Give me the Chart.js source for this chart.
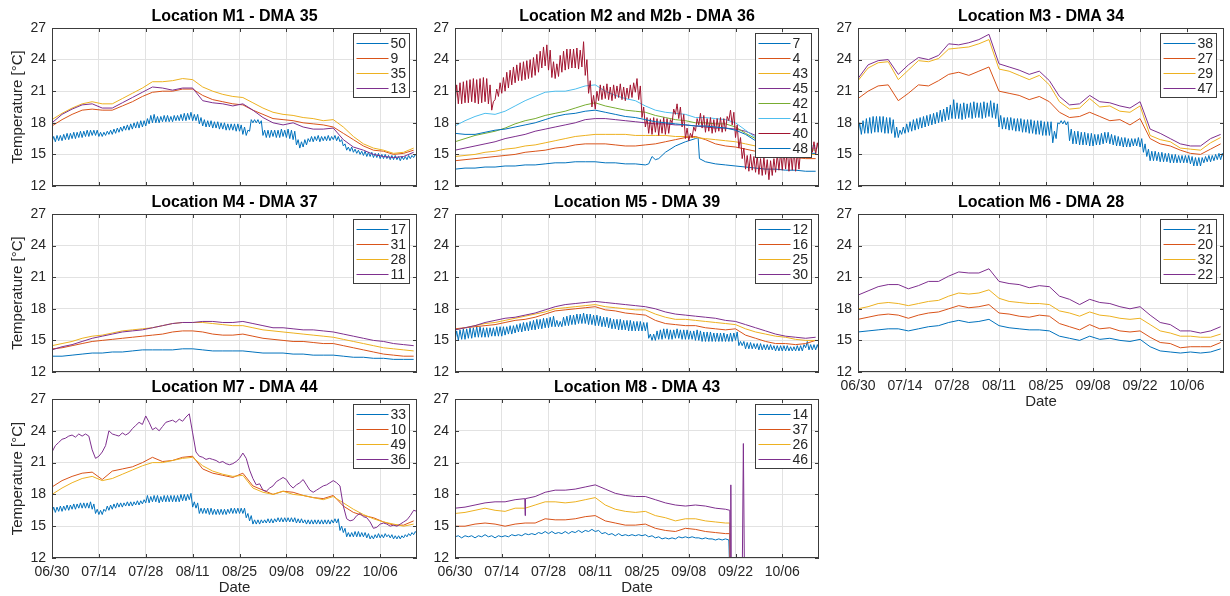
<!DOCTYPE html>
<html>
<head>
<meta charset="utf-8">
<script src="https://cdn.jsdelivr.net/npm/chart.js@4.4.1/dist/chart.umd.min.js"></script>
<style>
  html, body { margin: 0; padding: 0; background: #fff; }
  #fig { position: relative; width: 1230px; height: 596px; overflow: hidden; }
  #fig canvas { position: absolute; }
</style>
</head>
<body>
<div id="fig"></div>
<script>
// ---- shared axes ----
const xTickLabels = ['06/30', '07/14', '07/28', '08/11', '08/25', '09/08', '09/22', '10/06'];
// days since 06/30, every third day
const days3 = [0, 3, 6, 9, 12, 15, 18, 21, 24, 27, 30, 33, 36, 39, 42, 45, 48, 51, 54, 57, 60, 63, 66, 69, 72, 75, 78, 81, 84, 87, 90, 93, 96, 99, 102, 105, 108];

// Sensors with a strong daily cycle are kept as daily lows (night) and highs (midday), index = day.

// ---- M1 - DMA 35 ----
const m1_50lo = [16.2,16.2,16.3,16.3,16.4,16.4,16.5,16.5,16.6,16.6, 16.7,16.7,16.8,16.8,16.7,16.7,16.8,16.9,16.9,17.0,
  17.1,17.2,17.3,17.3,17.4,17.5,17.5,17.6,17.7,17.9, 18.0,18.0,18.0,18.1,18.1,18.1,18.1,18.2,18.2,18.2,
  18.2,18.3,18.2,18.2,17.9,17.7,17.6,17.6,17.5,17.5, 17.4,17.4,17.3,17.3,17.3,17.2,17.2,16.9,16.8,17.2,
  18.0,18.0,17.9,16.8,16.6,16.6,16.7,16.6,16.6,16.7, 16.6,16.5,16.4,15.9,15.6,15.7,15.9,16.2,16.2,16.3,
  16.2,16.3,16.3,16.3,16.4,16.3,16.2,15.8,15.4,15.3, 15.2,15.1,15.0,14.9,14.8,14.8,14.7,14.7,14.6,14.6,
  14.6,14.5,14.5,14.5,14.4,14.5,14.5,14.6,14.7,14.8];
const m1_50hi = [16.7,16.8,16.8,16.9,17.0,17.0,17.1,17.1,17.2,17.2, 17.3,17.3,17.3,17.3,17.1,17.1,17.2,17.3,17.4,17.5,
  17.6,17.7,17.8,17.9,18.0,18.1,18.2,18.2,18.4,18.7, 18.8,18.6,18.6,18.7,18.7,18.6,18.7,18.7,18.8,18.9,
  18.9,19.0,18.8,18.8,18.5,18.3,18.2,18.2,18.1,18.1, 18.0,18.0,17.9,17.9,17.9,17.9,17.8,17.6,17.3,18.3,
  18.3,18.3,18.2,17.3,17.3,17.3,17.3,17.3,17.4,17.3, 17.4,17.3,17.2,16.4,16.2,16.4,16.5,16.7,16.7,16.8,
  16.7,16.7,16.8,16.7,16.8,16.7,16.4,16.0,15.7,15.7, 15.5,15.4,15.3,15.3,15.2,15.2,15.1,15.1,15.0,15.0,
  14.9,14.9,14.9,14.8,14.8,14.8,14.9,14.9,15.0,15.1];
const m1_9  = [17.7,18.3,18.8,19.2,19.3,19.2,19.2,19.6,20.0,20.5,20.9,21.0,21.0,21.2,21.2,20.6,20.2,20.0,19.8,19.7,19.2,18.8,18.4,18.3,18.2,18.0,17.9,17.8,17.6,17.0,16.4,15.8,15.4,15.3,15.0,15.1,15.4];
const m1_35 = [18.3,18.9,19.4,19.8,20.0,19.8,19.8,20.3,20.8,21.3,21.9,21.9,22.0,22.2,22.1,21.4,21.0,20.7,20.5,20.4,19.9,19.4,19.0,18.8,18.7,18.5,18.4,18.2,18.3,17.6,16.7,16.0,15.6,15.4,15.1,15.2,15.6];
const m1_13 = [18.0,18.8,19.3,19.7,19.8,19.4,19.4,19.9,20.4,20.9,21.4,21.3,21.1,21.3,21.3,20.1,19.9,19.8,19.6,19.8,19.2,18.5,18.0,17.8,18.0,17.6,17.4,17.4,17.5,16.4,15.7,15.4,15.0,14.8,14.7,14.8,15.2];

// ---- M2 and M2b - DMA 36 ----
const m2Days7 = [0,3,6,9,12,15,18,21,24,27,30,33,36,39,42,45,48,51,54,57,58,59,60,61,63,66,69,72,72.8,73.2,75,78,81,84,87,90,93,96,99,102,105,108];
const m2_7  = [13.6,13.7,13.7,13.8,13.8,13.9,13.9,14.0,14.0,14.1,14.2,14.2,14.3,14.3,14.3,14.2,14.2,14.1,14.1,14.0,14.1,14.8,14.5,14.6,15.2,15.8,16.2,16.5,16.6,14.6,14.3,14.1,14.0,13.9,13.8,13.7,13.6,13.6,13.5,13.5,13.4,13.4];
const m2_4  = [14.4,14.5,14.6,14.7,14.8,14.9,15.0,15.2,15.3,15.4,15.6,15.7,15.9,16.0,16.0,16.0,15.9,15.8,15.8,15.9,16.0,16.2,16.4,16.6,16.7,16.4,16.0,15.8,15.7,15.5,15.3,15.1,14.9,14.8,14.7,14.6,14.6];
const m2_43 = [14.8,14.9,15.0,15.2,15.3,15.5,15.6,15.8,15.9,16.1,16.3,16.5,16.7,16.8,16.9,16.9,16.9,16.9,16.8,16.8,16.8,16.8,16.7,16.7,16.6,16.5,16.4,16.3,16.2,16.0,15.8,15.6,15.4,15.2,15.1,15.0,15.0];
const m2_45 = [15.4,15.6,15.8,16.0,16.2,16.5,16.7,16.9,17.2,17.4,17.6,17.8,18.0,18.3,18.4,18.4,18.3,18.2,18.1,18.0,17.9,17.9,17.8,17.8,17.7,17.6,17.5,17.5,17.4,17.2,16.8,16.3,16.0,15.8,15.7,15.6,15.6];
const m2_42 = [16.2,16.5,16.8,17.0,17.2,17.5,17.9,18.2,18.4,18.7,18.9,19.1,19.4,19.7,19.9,19.6,19.4,19.2,19.1,19.0,18.7,18.5,18.3,18.2,18.0,18.0,17.9,17.9,17.6,17.0,16.5,16.2,15.9,15.7,15.6,15.5,15.4];
const m2_41 = [17.7,18.2,18.6,18.9,18.8,19.1,19.6,20.1,20.5,20.9,21.0,21.0,21.2,21.5,21.6,21.0,20.6,20.3,20.1,19.6,19.2,19.0,18.9,18.8,18.5,18.5,18.4,18.3,18.0,17.3,16.6,16.2,16.0,15.9,15.9,15.8,15.8];
const m2_40lo = [19.7,19.8,19.8,19.9,19.9,20.0,19.9,19.8,19.9,20.0,19.8,
  19.2,20.2,20.5,20.8,21.0,21.3,21.6,21.8,22.0,22.0,
  22.1,22.2,22.3,22.5,22.8,23.2,23.4,23.0,22.3,22.2,
  22.4,22.8,23.0,23.1,23.2,23.2,23.1,23.3,22.5,20.8,
  19.5,19.3,20.1,20.2,20.3,20.2,20.1,20.3,20.4,20.2,
  20.1,20.3,20.4,20.9,20.2,18.5,17.6,17.0,16.9,17.1,
  16.8,17.0,16.9,17.0,18.0,18.8,18.4,17.6,16.5,16.3,
  16.6,17.2,17.8,17.5,17.1,17.2,17.0,17.1,17.2,17.1,
  17.2,18.2,17.8,16.6,15.6,14.6,13.6,13.4,13.5,13.3,
  13.1,13.0,13.1,12.6,13.0,13.3,13.5,13.5,13.6,13.4,
  13.5,13.4,13.6,15.2,15.0,15.1,15.2,15.0,15.2];
const m2_40hi = [21.6,21.8,21.9,22.0,22.1,22.2,22.1,22.2,22.3,22.2,21.6,
  20.0,21.2,21.8,22.3,22.8,23.0,23.3,23.5,23.7,23.8,
  23.9,24.0,24.2,24.5,24.8,25.2,25.4,24.9,23.8,23.6,
  24.4,24.8,25.0,25.0,25.0,25.1,24.9,25.7,24.0,22.0,
  20.6,21.0,21.6,21.5,21.7,21.4,21.6,21.5,21.7,21.4,
  21.3,21.6,21.8,22.2,21.5,19.5,18.5,18.4,18.5,18.4,
  18.3,18.5,18.4,18.3,19.3,19.8,19.5,18.8,17.5,17.0,
  17.6,18.4,18.9,18.7,18.4,18.5,18.3,18.4,18.5,18.4,
  18.6,19.2,19.0,17.8,16.6,15.6,14.9,15.0,14.8,14.9,
  14.6,14.7,14.5,14.4,14.6,15.0,15.2,15.4,15.5,15.3,
  15.6,15.2,15.4,16.3,16.2,16.0,16.2,16.1,16.0];
const m2_48 = [17.0,16.9,16.9,17.1,17.3,17.4,17.6,17.8,18.0,18.3,18.6,18.8,18.9,19.1,19.2,19.0,18.8,18.6,18.5,18.3,18.1,18.0,17.9,17.8,17.7,17.7,17.6,17.5,17.3,16.9,16.3,15.8,15.5,15.3,15.2,15.1,15.1];

// ---- M3 - DMA 34 ----
const m3_38lo = [16.9,16.9,17.0,17.0,17.0,17.1,17.1,17.1,17.0,17.0, 17.0,16.6,16.6,16.9,17.0,17.1,17.2,17.3,17.4,17.5,
  17.6,17.7,17.8,17.9,18.0,18.1,18.2,18.3,18.4,18.4, 18.4,18.3,18.4,18.5,18.4,18.5,18.5,18.4,18.5,18.6,
  18.5,18.4,17.6,17.4,17.4,17.3,17.3,17.2,17.2,17.1, 17.1,17.0,17.0,16.9,16.9,16.8,16.8,16.8,16.1,16.5,
  17.9,17.9,17.8,16.3,16.0,16.0,15.9,15.9,15.9,15.8, 15.8,15.9,15.9,16.0,16.1,16.0,15.9,15.8,15.8,15.7,
  15.7,15.7,15.8,15.8,15.7,15.2,14.8,14.4,14.4,14.4, 14.3,14.3,14.3,14.2,14.2,14.2,14.2,14.2,14.2,14.1,
  13.9,13.9,13.9,14.2,14.3,14.3,14.4,14.5,14.5,14.6];
const m3_38hi = [18.0,18.2,18.4,18.5,18.6,18.6,18.6,18.6,18.5,18.5, 18.3,17.6,17.3,17.6,17.9,18.1,18.3,18.4,18.5,18.6,
  18.7,18.8,18.9,19.0,19.2,19.3,19.5,19.7,20.2,19.9, 19.8,19.9,19.8,19.9,20.0,19.9,19.9,20.0,19.9,20.1,
  19.9,19.8,18.7,18.5,18.5,18.5,18.4,18.4,18.4,18.3, 18.3,18.3,18.2,18.2,18.2,18.1,18.1,18.1,17.2,18.0,
  18.2,18.2,18.1,17.4,17.2,17.2,17.1,17.1,17.0,17.0, 16.9,16.9,17.0,17.1,17.1,16.9,16.8,16.7,16.6,16.6,
  16.5,16.5,16.5,16.6,16.5,16.0,15.5,15.3,15.3,15.2, 15.2,15.1,15.1,15.0,15.0,14.9,14.9,14.9,14.9,14.8,
  14.7,14.7,14.7,14.8,14.9,14.9,15.0,15.1,15.1,15.1];
const m3_27 = [20.3,21.0,21.5,21.6,20.1,20.8,21.6,21.5,22.0,22.6,22.8,22.5,22.9,23.3,21.0,20.8,20.6,20.2,20.5,20.0,19.0,18.5,18.6,19.0,18.6,18.2,18.3,17.8,18.4,16.5,16.0,15.8,15.4,15.1,15.0,15.5,16.0];
const m3_29 = [22.0,23.2,23.7,23.8,22.1,23.0,23.9,23.8,24.1,25.0,25.1,25.2,25.5,25.9,23.1,22.9,22.5,22.1,22.5,21.6,20.0,19.3,19.4,20.3,19.5,19.6,19.1,19.0,19.6,16.8,16.4,16.2,15.6,15.5,15.4,16.1,16.6];
const m3_47 = [22.2,23.5,23.9,24.0,22.6,23.5,24.2,24.0,24.4,25.5,25.4,25.6,25.9,26.4,23.6,23.3,23.0,22.6,22.9,22.0,20.5,19.7,19.8,20.6,20.0,19.9,19.6,19.4,20.0,17.4,17.0,16.5,16.0,15.8,15.8,16.5,16.9];

// ---- M4 - DMA 37 ----
const m4_17 = [13.5,13.5,13.6,13.7,13.8,13.8,13.9,13.9,14.0,14.1,14.1,14.1,14.1,14.2,14.2,14.1,14.0,14.0,14.0,14.0,13.9,13.8,13.8,13.8,13.7,13.7,13.6,13.6,13.6,13.5,13.4,13.4,13.3,13.3,13.2,13.2,13.2];
const m4_31 = [14.2,14.3,14.5,14.7,14.9,15.0,15.1,15.2,15.3,15.4,15.5,15.6,15.8,15.9,15.9,15.8,15.6,15.5,15.5,15.6,15.4,15.2,15.1,15.0,14.9,14.9,14.8,14.7,14.7,14.5,14.3,14.1,13.9,13.7,13.6,13.5,13.5];
const m4_28 = [14.5,14.7,14.9,15.2,15.4,15.5,15.7,15.9,16.0,16.1,16.2,16.4,16.6,16.7,16.7,16.7,16.6,16.5,16.4,16.4,16.2,16.0,15.9,15.8,15.7,15.6,15.5,15.4,15.3,15.1,14.9,14.7,14.5,14.3,14.2,14.1,14.0];
const m4_11 = [14.1,14.4,14.6,14.9,15.2,15.4,15.6,15.8,15.9,16.0,16.2,16.4,16.6,16.7,16.7,16.8,16.8,16.7,16.7,16.8,16.6,16.4,16.2,16.2,16.1,16.0,16.0,15.9,15.8,15.6,15.4,15.2,15.0,14.9,14.7,14.6,14.5];

// ---- M5 - DMA 39 ----
const m5_12lo = [15.0,15.0,15.1,15.1,15.2,15.2,15.3,15.3,15.3,15.3, 15.3,15.4,15.4,15.4,15.4,15.5,15.6,15.6,15.7,15.8,
  15.8,15.9,15.9,16.0,16.0,16.1,16.1,16.2,16.2,16.3, 16.3,16.3,16.3,16.4,16.4,16.5,16.5,16.6,16.6,16.6,
  16.5,16.5,16.4,16.4,16.3,16.3,16.2,16.1,16.1,16.0, 16.0,16.0,15.9,15.9,15.9,15.9,15.9,15.9,15.2,15.0,
  15.0,15.1,15.1,15.2,15.1,15.1,15.2,15.2,15.1,15.1, 15.1,15.1,15.0,15.0,14.9,14.9,14.9,14.9,14.9,14.9,
  14.9,14.9,14.9,14.9,15.0,14.5,14.5,14.2,14.2,14.2, 14.2,14.1,14.1,14.1,14.1,14.1,14.0,14.0,14.0,14.0,
  14.0,14.0,14.0,14.0,14.0,14.3,14.1,14.1,14.1,14.1];
const m5_12hi = [15.9,16.0,16.1,16.1,16.2,16.2,16.3,16.3,16.2,16.2, 16.2,16.2,16.3,16.3,16.3,16.3,16.4,16.4,16.5,16.6,
  16.7,16.7,16.8,16.9,17.0,17.0,17.1,17.1,17.2,17.3, 16.9,16.8,17.2,17.3,17.4,17.4,17.5,17.5,17.6,17.5,
  17.5,17.4,17.4,17.3,17.2,17.2,17.1,17.0,17.0,17.0, 16.9,16.9,16.9,16.8,16.8,16.8,16.7,16.7,15.6,15.6,
  15.9,16.0,16.1,16.1,16.0,16.0,16.1,16.0,16.0,16.0, 15.9,15.9,16.0,15.9,15.8,15.8,15.8,15.7,15.7,15.7,
  15.7,15.6,15.7,15.7,15.8,14.9,14.9,14.8,14.8,14.7, 14.7,14.7,14.6,14.6,14.6,14.5,14.5,14.5,14.5,14.5,
  14.4,14.4,14.5,14.5,14.6,14.9,14.6,14.6,14.6,14.5];
const m5_16 = [16.1,16.2,16.3,16.4,16.5,16.7,16.9,17.0,17.2,17.5,17.8,17.9,18.0,18.1,18.2,17.9,17.8,17.6,17.5,17.4,16.9,16.6,16.5,16.4,16.4,16.2,16.1,16.0,16.1,15.5,15.2,14.9,14.7,14.7,14.6,14.7,15.0];
const m5_25 = [16.0,16.2,16.4,16.6,16.7,16.9,17.1,17.3,17.5,17.7,18.0,18.1,18.2,18.3,18.4,18.2,18.1,18.0,17.9,17.9,17.5,17.2,17.0,17.0,16.9,16.8,16.7,16.6,16.5,16.1,15.8,15.6,15.4,15.3,15.1,15.0,15.0];
const m5_30 = [16.0,16.2,16.4,16.7,16.9,17.1,17.2,17.4,17.6,17.9,18.2,18.4,18.5,18.6,18.7,18.6,18.5,18.4,18.3,18.2,18.0,17.7,17.5,17.4,17.3,17.2,17.1,16.9,16.8,16.5,16.2,15.9,15.6,15.4,15.3,15.2,15.3];

// ---- M6 - DMA 28 ----
const m6_21 = [15.8,15.9,16.0,16.1,16.1,15.9,16.1,16.3,16.4,16.7,16.9,16.7,16.8,17.0,16.4,16.2,16.1,16.0,16.0,15.9,15.4,15.2,15.0,15.4,15.1,15.2,15.0,14.9,15.1,14.4,14.0,13.9,13.8,13.9,13.8,13.9,14.2];
const m6_20 = [17.0,17.2,17.4,17.5,17.4,17.1,17.4,17.6,17.7,18.0,18.3,18.1,18.2,18.4,17.6,17.5,17.3,17.2,17.4,17.3,16.6,16.3,16.0,16.5,16.1,16.2,15.9,15.8,15.9,15.3,14.8,14.7,14.3,14.4,14.4,14.4,14.8];
const m6_32 = [18.0,18.2,18.5,18.6,18.5,18.3,18.5,18.7,18.8,19.2,19.5,19.4,19.5,19.8,19.0,18.7,18.6,18.5,18.5,18.4,17.8,17.6,17.3,17.7,17.4,17.3,17.1,17.0,17.1,16.5,15.9,15.7,15.4,15.4,15.3,15.3,15.6];
const m6_22 = [19.3,19.7,20.1,20.3,20.3,19.9,20.2,20.6,20.6,21.1,21.5,21.4,21.4,21.8,20.6,20.4,20.3,20.0,20.2,20.1,19.2,18.9,18.4,18.9,18.6,18.5,18.2,18.0,18.2,17.4,16.7,16.5,15.9,15.9,15.7,15.9,16.3];

// ---- M7 - DMA 44 ----
const m7_33lo = [16.3,16.3,16.4,16.4,16.5,16.5,16.6,16.6,16.7,16.7, 16.7,16.7,16.6,16.2,16.1,16.1,16.4,16.5,16.6,16.7,
  16.8,16.8,16.9,16.9,16.9,17.0,17.0,17.1,17.2,17.2, 17.3,17.3,17.2,17.3,17.3,17.3,17.3,17.3,17.3,17.4,
  17.4,17.5,16.8,16.7,16.2,16.2,16.2,16.1,16.1,16.1, 16.1,16.1,16.1,16.2,16.2,16.2,16.2,16.2,15.8,15.5,
  15.2,15.2,15.2,15.3,15.3,15.3,15.3,15.4,15.4,15.4, 15.4,15.4,15.4,15.3,15.3,15.3,15.2,15.2,15.2,15.2,
  15.2,15.2,15.2,15.2,15.3,15.3,14.6,14.4,14.0,14.0, 14.0,14.0,14.0,14.0,13.9,13.8,13.8,13.9,13.9,13.9,
  14.0,13.9,13.8,13.8,13.8,13.9,14.0,14.1,14.2,14.3];
const m7_33hi = [16.8,16.8,16.9,16.9,17.0,17.0,17.1,17.1,17.2,17.2, 17.2,17.3,17.1,16.6,16.5,16.6,16.9,17.0,17.1,17.2,
  17.2,17.2,17.3,17.3,17.3,17.4,17.4,17.5,17.9,17.8, 17.9,17.9,17.8,17.9,17.9,17.9,17.9,17.9,18.0,18.0,
  18.0,18.1,17.3,17.2,16.7,16.7,16.7,16.7,16.6,16.6, 16.6,16.6,16.6,16.7,16.7,16.7,16.7,16.7,16.2,16.0,
  15.6,15.6,15.6,15.6,15.7,15.7,15.7,15.8,15.8,15.8, 15.8,15.8,15.8,15.7,15.7,15.6,15.6,15.6,15.6,15.6,
  15.6,15.6,15.6,15.6,15.7,15.7,15.0,14.8,14.4,14.4, 14.5,14.5,14.4,14.4,14.3,14.1,14.2,14.3,14.2,14.3,
  14.2,14.2,14.1,14.1,14.1,14.2,14.3,14.4,14.5,14.6];
const m7_10 = [18.7,19.3,19.7,20.0,20.1,19.4,20.2,20.4,20.6,21.0,21.5,21.1,21.2,21.5,21.6,20.4,20.0,19.8,19.6,20.0,18.8,18.4,18.0,18.3,18.2,17.9,17.7,17.6,17.9,16.9,16.3,16.0,15.8,15.4,15.1,15.1,15.5];
const m7_49 = [18.0,18.6,19.1,19.5,19.7,19.3,19.5,19.9,20.3,20.7,21.0,21.0,21.2,21.4,21.5,20.7,20.2,19.9,19.7,19.8,18.6,18.2,18.0,18.3,18.0,17.9,17.7,17.5,17.8,17.2,16.6,16.1,15.7,15.4,15.2,15.0,15.2];
// daily readings (index = day)
const m7_36 = [22.0,22.6,22.9,23.2,23.3,23.5,23.6,23.4,23.7,23.5,23.7,
  23.5,22.2,21.4,21.6,22.0,22.6,24.0,23.7,23.6,23.5,
  23.8,23.6,23.8,24.2,24.5,24.8,24.6,25.4,24.8,24.1,
  24.3,24.0,24.4,24.8,24.9,25.0,24.8,25.1,24.9,25.3,
  25.6,23.8,22.0,21.6,21.5,21.3,21.4,21.3,21.2,21.0,
  21.1,20.9,20.8,20.9,21.1,21.4,21.9,21.4,20.3,19.5,
  18.9,19.0,18.4,18.3,18.6,18.8,19.2,19.4,19.6,19.4,
  18.9,18.6,18.9,19.1,19.4,18.9,18.4,18.2,18.4,18.6,
  18.8,18.9,19.1,19.3,19.1,18.8,16.9,15.7,15.5,15.6,
  16.0,16.2,15.9,15.8,15.4,14.8,14.9,15.2,15.3,15.2,
  15.0,15.1,15.0,15.2,15.4,15.6,16.0,16.5,16.4];

// ---- M8 - DMA 43 (logger fails after 09/19) ----
const m8Days = [0,3,6,9,12,15,18,21,24,27,30,33,36,39,42,45,48,51,54,57,60,63,66,69,72,75,78,81,82.3,82.4];
// daily readings (index = day)
const m8_14 = [14.0,14.1,13.9,14.1,14.0,14.1,13.9,14.1,14.0,14.2,14.0,14.1,13.9,14.1,
  14.0,14.1,14.0,14.2,14.1,14.2,14.1,14.3,14.2,14.3,14.2,14.4,14.3,14.5,
  14.3,14.5,14.3,14.4,14.3,14.5,14.3,14.5,14.4,14.6,14.4,14.6,14.5,14.7,
  14.5,14.6,14.3,14.4,14.2,14.3,14.1,14.3,14.1,14.2,14.1,14.2,14.1,14.2,
  14.1,14.2,14.0,14.1,13.9,14.0,13.8,13.9,13.8,13.9,13.8,14.0,13.9,14.0,
  13.9,14.0,13.9,13.9,13.8,13.9,13.8,13.8,13.7,13.8,13.7,13.8,13.7,2];
const m8_37 = [15.0,15.0,15.2,15.3,15.2,15.0,15.2,15.3,15.3,15.7,15.6,15.6,15.7,15.9,16.0,15.5,15.3,15.1,15.1,15.2,14.8,14.6,14.5,14.8,14.7,14.5,14.4,14.3,14.3,2];
const m8_26 = [16.2,16.3,16.5,16.7,16.5,16.4,16.7,16.7,17.0,17.3,17.3,17.2,17.3,17.5,17.7,17.0,16.6,16.4,16.3,16.4,16.0,15.8,15.5,15.7,15.7,15.5,15.4,15.3,15.3,2];
const m8Days46 = [0,3,6,9,12,15,18,20.9,21,21.1,24,27,30,33,36,39,42,45,48,51,54,57,60,63,66,69,72,75,78,81,82.3,82.4,82.6,82.8,85.8,86.35,86.9];
const m8_46 = [16.7,16.8,17.0,17.2,17.3,17.3,17.5,17.6,16.0,17.6,17.8,18.2,18.4,18.4,18.5,18.7,18.9,18.5,18.1,17.9,17.8,17.8,17.5,17.2,17.0,16.9,17.0,16.9,16.7,16.6,16.5,2,18.9,2,2,22.8,2];

// ---- look ----
const C = { blue: '#0072BD', orange: '#D95319', yellow: '#EDB120', purple: '#7E2F8E', green: '#77AC30', cyan: '#4DBEEE', red: '#A2142F' };
const FONT = '"Liberation Sans", Arial, Helvetica, sans-serif';
const TEXT = '#262626';
const AXIS = '#3c3c3c';
const GRID = '#e2e2e2';

// page placement of the eight axes
const colLeft = [52, 455, 858], colRight = [417, 819, 1224];
const rowTop = [28, 214, 399], rowBottom = [186, 372, 558];
const PAD_L = 55, PAD_R = 6, PAD_T = 28, PAD_B = 40;

const panels = [
  { title: 'Location M1 - DMA 35', col: 0, row: 0, yLabel: true, xLabels: false, series: [
    { label: '50', color: C.blue, lo: m1_50lo, hi: m1_50hi },
    { label: '9', color: C.orange, x: days3, y: m1_9 },
    { label: '35', color: C.yellow, x: days3, y: m1_35 },
    { label: '13', color: C.purple, x: days3, y: m1_13 } ] },
  { title: 'Location M2 and M2b - DMA 36', col: 1, row: 0, xLabels: false, series: [
    { label: '7', color: C.blue, x: m2Days7, y: m2_7 },
    { label: '4', color: C.orange, x: days3, y: m2_4 },
    { label: '43', color: C.yellow, x: days3, y: m2_43 },
    { label: '45', color: C.purple, x: days3, y: m2_45 },
    { label: '42', color: C.green, x: days3, y: m2_42 },
    { label: '41', color: C.cyan, x: days3, y: m2_41 },
    { label: '40', color: C.red, lo: m2_40lo, hi: m2_40hi },
    { label: '48', color: C.blue, x: days3, y: m2_48 } ] },
  { title: 'Location M3 - DMA 34', col: 2, row: 0, xLabels: false, series: [
    { label: '38', color: C.blue, lo: m3_38lo, hi: m3_38hi },
    { label: '27', color: C.orange, x: days3, y: m3_27 },
    { label: '29', color: C.yellow, x: days3, y: m3_29 },
    { label: '47', color: C.purple, x: days3, y: m3_47 } ] },
  { title: 'Location M4 - DMA 37', col: 0, row: 1, yLabel: true, xLabels: false, series: [
    { label: '17', color: C.blue, x: days3, y: m4_17 },
    { label: '31', color: C.orange, x: days3, y: m4_31 },
    { label: '28', color: C.yellow, x: days3, y: m4_28 },
    { label: '11', color: C.purple, x: days3, y: m4_11 } ] },
  { title: 'Location M5 - DMA 39', col: 1, row: 1, xLabels: false, series: [
    { label: '12', color: C.blue, lo: m5_12lo, hi: m5_12hi },
    { label: '16', color: C.orange, x: days3, y: m5_16 },
    { label: '25', color: C.yellow, x: days3, y: m5_25 },
    { label: '30', color: C.purple, x: days3, y: m5_30 } ] },
  { title: 'Location M6 - DMA 28', col: 2, row: 1, xLabels: true, series: [
    { label: '21', color: C.blue, x: days3, y: m6_21 },
    { label: '20', color: C.orange, x: days3, y: m6_20 },
    { label: '32', color: C.yellow, x: days3, y: m6_32 },
    { label: '22', color: C.purple, x: days3, y: m6_22 } ] },
  { title: 'Location M7 - DMA 44', col: 0, row: 2, yLabel: true, xLabels: true, series: [
    { label: '33', color: C.blue, lo: m7_33lo, hi: m7_33hi },
    { label: '10', color: C.orange, x: days3, y: m7_10 },
    { label: '49', color: C.yellow, x: days3, y: m7_49 },
    { label: '36', color: C.purple, y: m7_36 } ] },
  { title: 'Location M8 - DMA 43', col: 1, row: 2, xLabels: true, series: [
    { label: '14', color: C.blue, y: m8_14 },
    { label: '37', color: C.orange, x: m8Days, y: m8_37 },
    { label: '26', color: C.yellow, x: m8Days, y: m8_26 },
    { label: '46', color: C.purple, x: m8Days46, y: m8_46 } ] }
];

// night lows sit at the start of each day, midday highs half a day later
function points(s) {
  if (s.lo) {
    const out = [];
    s.lo.forEach((v, i) => {
      out.push({ x: i, y: v });
      out.push({ x: i + 0.5, y: s.hi[i] });
    });
    return out;
  }
  return s.y.map((v, i) => ({ x: s.x ? s.x[i] : i, y: v }));
}

// box, inward ticks, titles and the boxed legend
const framePlugin = {
  id: 'frame',
  afterDatasetsDraw(chart) {
    const opt = chart.options.plugins.frame;
    const ctx = chart.ctx, a = chart.chartArea;
    const xs = chart.scales.x, ys = chart.scales.y;
    ctx.save();
    ctx.strokeStyle = AXIS;
    ctx.lineWidth = 1;
    ctx.strokeRect(a.left + 0.5, a.top + 0.5, a.right - a.left - 1, a.bottom - a.top - 1);
    ctx.beginPath();
    xs.ticks.forEach(t => {
      const px = Math.round(xs.getPixelForValue(t.value)) + 0.5;
      ctx.moveTo(px, a.bottom); ctx.lineTo(px, a.bottom - 4);
      ctx.moveTo(px, a.top); ctx.lineTo(px, a.top + 4);
    });
    ys.ticks.forEach(t => {
      const py = Math.round(ys.getPixelForValue(t.value)) + 0.5;
      ctx.moveTo(a.left, py); ctx.lineTo(a.left + 4, py);
      ctx.moveTo(a.right, py); ctx.lineTo(a.right - 4, py);
    });
    ctx.stroke();

    const cx = (a.left + a.right) / 2;
    ctx.fillStyle = '#000';
    ctx.textAlign = 'center';
    ctx.textBaseline = 'middle';
    ctx.font = 'bold 16px ' + FONT;
    ctx.fillText(opt.title, cx, a.top - 11);

    ctx.fillStyle = TEXT;
    ctx.font = '15px ' + FONT;
    if (opt.xLabel) ctx.fillText('Date', cx, a.bottom + 30);
    if (opt.yLabel) {
      ctx.save();
      ctx.translate(a.left - 34, (a.top + a.bottom) / 2);
      ctx.rotate(-Math.PI / 2);
      ctx.fillText('Temperature [°C]', 0, 0);
      ctx.restore();
    }

    // legend, top right inside the axes
    const ds = chart.data.datasets;
    const bw = 56, bh = ds.length * 15 + 4;
    const bx = Math.round(a.right - 8 - bw) + 0.5, by = Math.round(a.top + 5) + 0.5;
    ctx.fillStyle = '#fff';
    ctx.fillRect(bx, by, bw, bh);
    ctx.strokeStyle = AXIS;
    ctx.strokeRect(bx, by, bw, bh);
    ctx.font = '14px ' + FONT;
    ctx.textAlign = 'left';
    ds.forEach((d, i) => {
      const yy = Math.round(by + 9.5 + i * 15) + 0.5;
      ctx.strokeStyle = d.borderColor;
      ctx.beginPath();
      ctx.moveTo(bx + 3, yy); ctx.lineTo(bx + 35, yy);
      ctx.stroke();
      ctx.fillStyle = TEXT;
      ctx.fillText(d.label, bx + 37, yy + 0.5);
    });
    ctx.restore();
  }
};

Chart.defaults.font.family = FONT;
const fig = document.getElementById('fig');

panels.forEach(p => {
  const w = colRight[p.col] - colLeft[p.col] + PAD_L + PAD_R;
  const h = rowBottom[p.row] - rowTop[p.row] + PAD_T + PAD_B;
  const cv = document.createElement('canvas');
  cv.width = w; cv.height = h;
  cv.style.width = w + 'px'; cv.style.height = h + 'px';
  cv.style.left = (colLeft[p.col] - PAD_L) + 'px';
  cv.style.top = (rowTop[p.row] - PAD_T) + 'px';
  fig.appendChild(cv);

  new Chart(cv, {
    type: 'line',
    data: {
      datasets: p.series.map((s, i) => ({
        label: s.label,
        data: points(s),
        borderColor: s.color,
        borderWidth: 1,
        pointRadius: 0,
        tension: 0,
        fill: false,
        order: p.series.length - i
      }))
    },
    options: {
      responsive: false,
      animation: false,
      devicePixelRatio: 1,
      events: [],
      layout: { padding: { left: 0, right: PAD_R, top: PAD_T, bottom: 0 } },
      plugins: {
        legend: { display: false },
        tooltip: { enabled: false },
        frame: { title: p.title, yLabel: !!p.yLabel, xLabel: p.xLabels }
      },
      scales: {
        x: {
          type: 'linear', min: 0, max: 109,
          afterFit(s) { s.height = PAD_B; },
          border: { display: false },
          grid: { color: GRID, drawTicks: false },
          ticks: {
            display: p.xLabels, stepSize: 14, includeBounds: false, autoSkip: false,
            maxRotation: 0, padding: 6, color: TEXT, font: { size: 14 },
            callback: v => xTickLabels[Math.round(v / 14)]
          }
        },
        y: {
          min: 12, max: 27,
          afterFit(s) { s.width = PAD_L; },
          border: { display: false },
          grid: { color: GRID, drawTicks: false },
          ticks: { stepSize: 3, padding: 6, color: TEXT, font: { size: 14 } }
        }
      }
    },
    plugins: [framePlugin]
  });
});
</script>
</body>
</html>
